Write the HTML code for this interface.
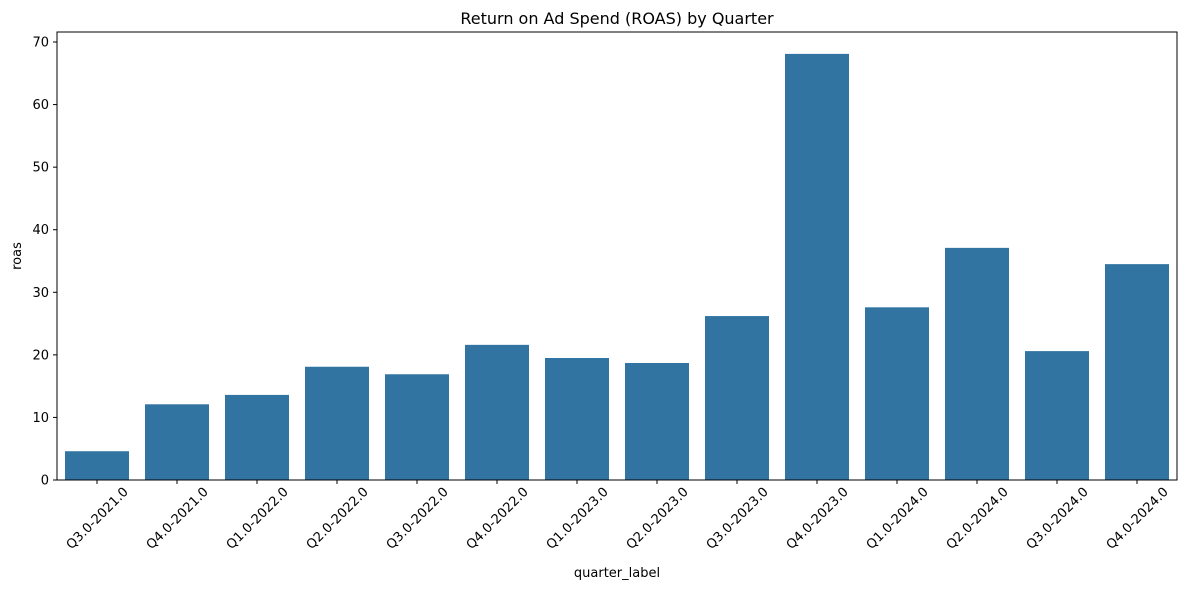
<!DOCTYPE html>
<html><head><meta charset="utf-8"><style>
body{margin:0;background:#fff}
svg{display:block;font-family:"DejaVu Sans","Liberation Sans",sans-serif}
</style></head><body>
<svg id="chart" width="1187" height="590">
<text x="617" y="24" text-anchor="middle" font-size="16" fill="#000">Return on Ad Spend (ROAS) by Quarter</text>
<g id="bars"></g>
<g id="yaxis"></g>
<g id="xaxis"></g>
<rect x="57" y="32" width="1120" height="448" fill="none" stroke="#000" stroke-width="1"/>
<text x="617" y="577" text-anchor="middle" font-size="13">quarter_label</text>
<text transform="translate(21,256) rotate(-90)" text-anchor="middle" font-size="13">roas</text>
</svg>
<script>
const categories=["Q3.0-2021.0","Q4.0-2021.0","Q1.0-2022.0","Q2.0-2022.0","Q3.0-2022.0","Q4.0-2022.0","Q1.0-2023.0","Q2.0-2023.0","Q3.0-2023.0","Q4.0-2023.0","Q1.0-2024.0","Q2.0-2024.0","Q3.0-2024.0","Q4.0-2024.0"];
const roas=[4.6,12.1,13.6,18.1,16.9,21.6,19.5,18.7,26.2,68.1,27.6,37.1,20.6,34.5];
const yTicks=[0,10,20,30,40,50,60,70];
const NS="http://www.w3.org/2000/svg";
const L=57,R=1177,B=480,yMax=71.6,T=32;
const y=v=>B-(v/yMax)*(B-T);
const step=(R-L)/categories.length;
const xc=i=>L+step*(i+0.5);
function mk(t,a){const e=document.createElementNS(NS,t);for(const k in a)e.setAttribute(k,a[k]);return e;}
const bars=document.getElementById('bars'),ya=document.getElementById('yaxis'),xa=document.getElementById('xaxis');
roas.forEach((v,i)=>{
 const r=mk('rect',{x:xc(i)-step*0.4,y:y(v),width:step*0.8,height:B-y(v),fill:'#3274a1'});
 
 
 bars.appendChild(r);
});
yTicks.forEach(t=>{
 const l=mk('line',{x1:L-4,x2:L,y1:y(t),y2:y(t),stroke:'#000'});
 
 
 ya.appendChild(l);
 const tx=mk('text',{x:L-8,y:y(t)+4.5,'text-anchor':'end','font-size':'13'});
 tx.textContent=t;
 
 
 ya.appendChild(tx);
});
categories.forEach((c,i)=>{
 const l=mk('line',{x1:xc(i),x2:xc(i),y1:B,y2:B+4,stroke:'#000'});
 
 
 xa.appendChild(l);
 const cx=xc(i),cy=518;
 const tx=mk('text',{x:cx,y:cy+4.5,'text-anchor':'middle','font-size':'13',transform:`rotate(-45 ${cx} ${cy})`});
 tx.textContent=c;
 
 
 xa.appendChild(tx);
});
</script>
</body></html>
